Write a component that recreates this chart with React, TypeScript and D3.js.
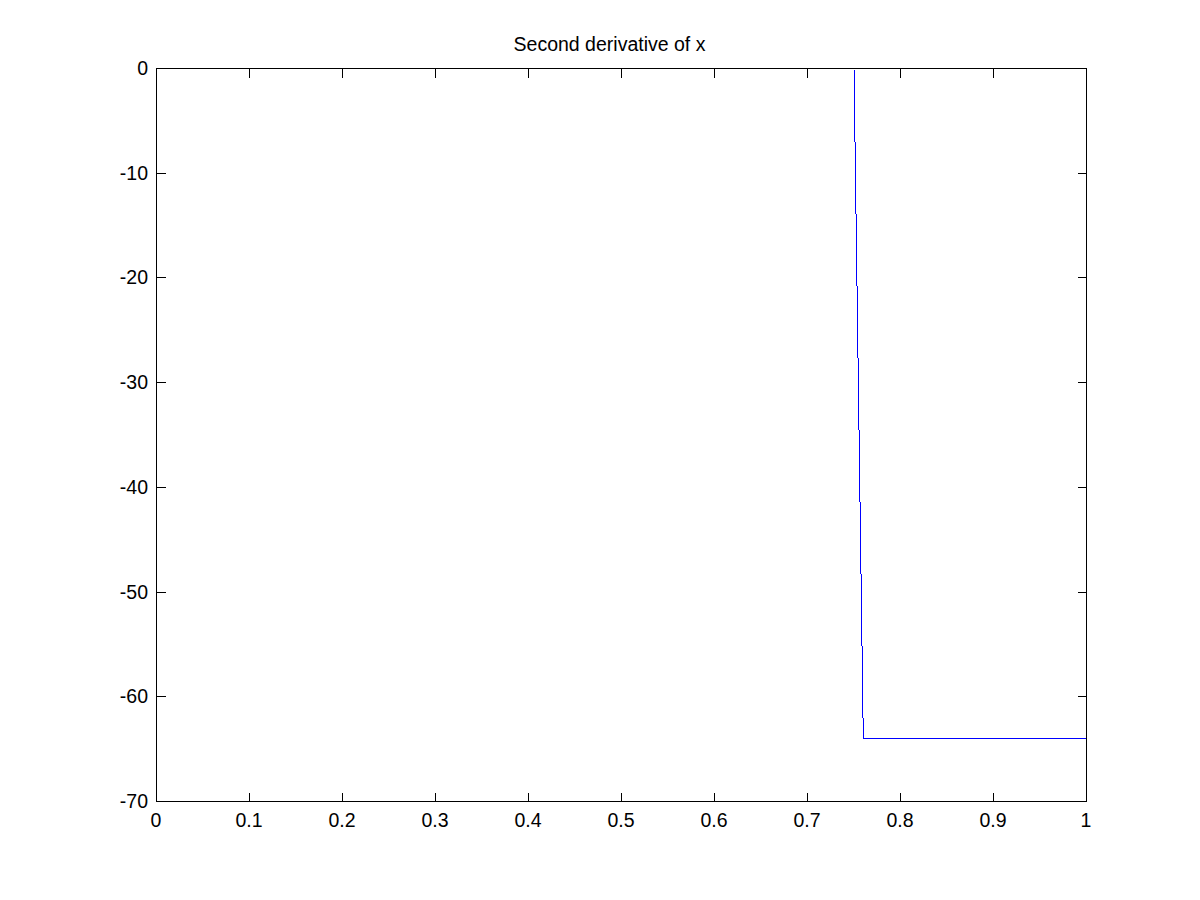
import React from "react";
import * as d3 from "d3";

const xValues = [0, 0.75, 0.76, 1];
const yValues = [0, 0, -64, -64];
const xTicks = [0, 0.1, 0.2, 0.3, 0.4, 0.5, 0.6, 0.7, 0.8, 0.9, 1];
const yTicks = [0, -10, -20, -30, -40, -50, -60, -70];
const title = "Second derivative of x";

const W = 1200, H = 900;
const L = 156.5, R = 1086.5, T = 68.5, B = 801.5;

export default function App() {
  const x = d3.scaleLinear().domain([0, 1]).range([L, R]);
  const y = d3.scaleLinear().domain([-70, 0]).range([B, T]);
  const pts: [number, number][] = xValues.map((v, i) => [v, yValues[i]]);
  const line = d3.line<[number, number]>().x(d => x(d[0])).y(d => y(d[1]));
  const font = "'Liberation Sans', Arial, Helvetica, sans-serif";
  const tl = 9;
  const fs = 19.5;
  const px = (v: number) => Math.floor(v) + 0.5;
  return (
    <svg width={W} height={H} style={{ position: "absolute", left: 0, top: 0, background: "#fff" }} fontFamily={font}>
      <rect x={0} y={0} width={W} height={H} fill="#fff" />
      <path d={line(pts) || ""} fill="none" stroke="#0000ff" strokeWidth={1} shapeRendering="crispEdges" />
      <g shapeRendering="crispEdges">
        <rect x={L} y={T} width={R - L} height={B - T} fill="none" stroke="#000" strokeWidth={1} />
        {xTicks.map(t => (
          <g key={"x" + t}>
            <line x1={px(x(t))} x2={px(x(t))} y1={B} y2={B - tl} stroke="#000" />
            <line x1={px(x(t))} x2={px(x(t))} y1={T} y2={T + tl} stroke="#000" />
          </g>
        ))}
        {yTicks.map(t => (
          <g key={"y" + t}>
            <line x1={L} x2={L + tl} y1={px(y(t))} y2={px(y(t))} stroke="#000" />
            <line x1={R} x2={R - tl} y1={px(y(t))} y2={px(y(t))} stroke="#000" />
          </g>
        ))}
      </g>
      {xTicks.map(t => (
        <text key={"xl" + t} x={x(t) - 0.5} y={827} fontSize={fs} textAnchor="middle" fill="#000">{String(t)}</text>
      ))}
      {yTicks.map(t => (
        <text key={"yl" + t} x={148} y={y(t) + 6.5} fontSize={fs} textAnchor="end" fill="#000">{String(t)}</text>
      ))}
      <text x={609.5} y={51} fontSize={fs} textAnchor="middle" fill="#000">{title}</text>
    </svg>
  );
}
